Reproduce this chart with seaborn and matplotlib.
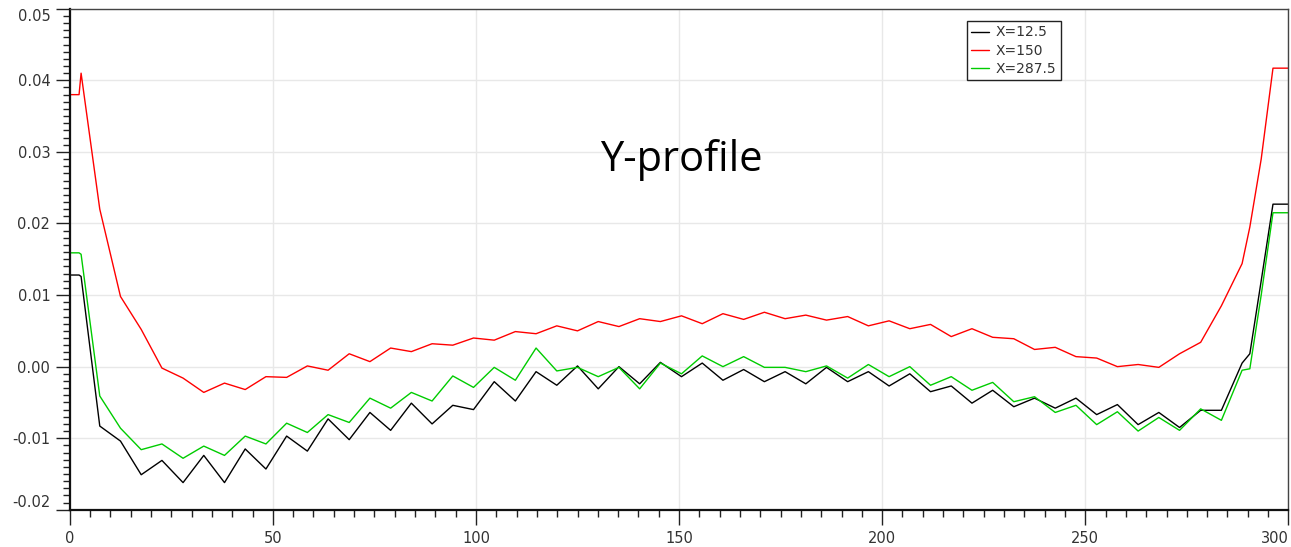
import matplotlib
matplotlib.use('Agg')
import matplotlib.pyplot as plt
import seaborn as sns
import pandas as pd
from matplotlib.ticker import MultipleLocator

# sample positions along Y
y_pos = [0, 2.3, 2.8,
         7.4, 12.5, 17.6, 22.7, 27.9, 33.0, 38.1, 43.2, 48.3, 53.4,
         58.5, 63.6, 68.8, 73.9, 79.0, 84.1, 89.2, 94.3, 99.4, 104.5,
         109.7, 114.8, 119.9, 125.0, 130.1, 135.2, 140.3, 145.4, 150.6, 155.7,
         160.8, 165.9, 171.0, 176.1, 181.2, 186.3, 191.5, 196.6, 201.7, 206.8,
         211.9, 217.0, 222.1, 227.2, 232.4, 237.5, 242.6, 247.7, 252.8, 257.9,
         263.0, 268.1, 273.2, 278.4, 283.5, 288.6,
         290.5, 293.3, 296.2, 300]

x_12_5 = [0.0128, 0.0128, 0.0126,
          -0.0083, -0.0104, -0.0151, -0.0131, -0.0162, -0.0124, -0.0162, -0.0115, -0.0143, -0.0097,
          -0.0118, -0.0073, -0.0102, -0.0064, -0.0089, -0.0051, -0.0080, -0.0054, -0.0060, -0.0021,
          -0.0048, -0.0007, -0.0026, 0.0001, -0.0031, 0.0000, -0.0024, 0.0006, -0.0014, 0.0005,
          -0.0019, -0.0004, -0.0021, -0.0007, -0.0024, -0.0001, -0.0021, -0.0007, -0.0027, -0.0010,
          -0.0035, -0.0027, -0.0051, -0.0033, -0.0056, -0.0044, -0.0058, -0.0044, -0.0067, -0.0053,
          -0.0081, -0.0064, -0.0085, -0.0061, -0.0061, 0.0005,
          0.0018, 0.0120, 0.0227, 0.0227]

x_150 = [0.0380, 0.0380, 0.0410,
         0.0220, 0.0098, 0.0052, -0.0002, -0.0016, -0.0036, -0.0023, -0.0032, -0.0014, -0.0015,
         0.0001, -0.0005, 0.0018, 0.0007, 0.0026, 0.0021, 0.0032, 0.0030, 0.0040, 0.0037,
         0.0049, 0.0046, 0.0057, 0.0050, 0.0063, 0.0056, 0.0067, 0.0063, 0.0071, 0.0060,
         0.0074, 0.0066, 0.0076, 0.0067, 0.0072, 0.0065, 0.0070, 0.0057, 0.0064, 0.0053,
         0.0059, 0.0042, 0.0053, 0.0041, 0.0039, 0.0024, 0.0027, 0.0014, 0.0012, 0.0000,
         0.0003, -0.0001, 0.0018, 0.0034, 0.0085, 0.0144,
         0.0195, 0.0290, 0.0417, 0.0417]

x_287_5 = [0.0159, 0.0159, 0.0157,
           -0.0041, -0.0086, -0.0116, -0.0108, -0.0128, -0.0111, -0.0124, -0.0097, -0.0108, -0.0079,
           -0.0092, -0.0067, -0.0078, -0.0044, -0.0058, -0.0036, -0.0048, -0.0013, -0.0029, -0.0001,
           -0.0019, 0.0026, -0.0006, -0.0001, -0.0014, -0.0001, -0.0031, 0.0005, -0.0010, 0.0015,
           0.0000, 0.0014, -0.0001, -0.0001, -0.0007, 0.0001, -0.0016, 0.0003, -0.0014, 0.0000,
           -0.0026, -0.0014, -0.0033, -0.0022, -0.0049, -0.0042, -0.0064, -0.0054, -0.0081, -0.0063,
           -0.0090, -0.0071, -0.0089, -0.0059, -0.0075, -0.0005,
           -0.0003, 0.0100, 0.0215, 0.0215]

labels = ['X=12.5', 'X=150', 'X=287.5']
colors = ['#000000', '#ff0000', '#00cc00']
x_ticks = [0, 50, 100, 150, 200, 250, 300]
y_ticks = [-0.02, -0.01, 0.00, 0.01, 0.02, 0.03, 0.04, 0.05]

rows = []
for name, vals in zip(labels, [x_12_5, x_150, x_287_5]):
    for p, v in zip(y_pos, vals):
        rows.append({'pos': p, 'value': v, 'series': name})
df = pd.DataFrame(rows)

sns.set_style('white')
plt.rcParams['font.family'] = ['DejaVu Sans']

fig = plt.figure(figsize=(12.91, 5.47), dpi=100)
ax = fig.add_axes([0.054, 0.068, 0.944, 0.916])

sns.lineplot(data=df, x='pos', y='value', hue='series', hue_order=labels,
             palette=colors, sort=False, estimator=None, linewidth=1.0, ax=ax)

ax.set_xlim(0, 300)
ax.set_ylim(-0.02, 0.05)
ax.set_xticks(x_ticks)
ax.set_xticklabels([str(v) for v in x_ticks])
ax.set_yticks(y_ticks)
ax.set_yticklabels([f'{v:.2f}' for v in y_ticks])
ax.xaxis.set_minor_locator(MultipleLocator(5))
ax.yaxis.set_minor_locator(MultipleLocator(0.001))
ax.grid(True, which='major', color='#e8e8e8', linewidth=1.0)
ax.set_axisbelow(True)

ax.tick_params(which='both', bottom=True, left=True, top=False, right=False)
ax.tick_params(which='major', direction='out', length=10, width=1.0,
               color='#222222', labelsize=10.5, labelcolor='#333333', pad=4)
ax.tick_params(which='minor', direction='out', length=5, width=1.0, color='#222222')
ax.tick_params(axis='x', which='major', length=11)

for side in ['left', 'bottom']:
    ax.spines[side].set_color('#111111')
    ax.spines[side].set_linewidth(1.6)
for side in ['top', 'right']:
    ax.spines[side].set_color('#444444')
    ax.spines[side].set_linewidth(1.0)

ax.set_xlabel('')
ax.set_ylabel('')

ylabels = ax.get_yticklabels()
ylabels[0].set_va('bottom')
ylabels[-1].set_va('top')
xlabels = ax.get_xticklabels()
xlabels[-1].set_ha('right')

handles, _ = ax.get_legend_handles_labels()
leg = ax.legend(handles, labels, loc='upper left', bbox_to_anchor=(0.736, 0.975),
                fontsize=10, frameon=True, fancybox=False, framealpha=1,
                edgecolor='#222222', handlelength=1.3, handletextpad=0.5,
                borderpad=0.3, labelspacing=0.3, borderaxespad=0)
leg.get_frame().set_linewidth(1.0)
for t in leg.get_texts():
    t.set_color('#333333')

ax.text(0.5016, 0.698, 'Y-profile', transform=ax.transAxes, ha='center', va='center',
        fontsize=30, family=['Open Sans', 'DejaVu Sans'], color='#000000')

fig.savefig('out.png', dpi=100)
